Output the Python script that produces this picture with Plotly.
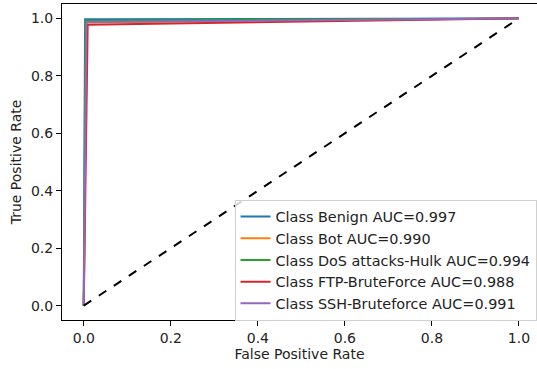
import plotly.graph_objects as go

class_names = ["Benign", "Bot", "DoS attacks-Hulk", "FTP-BruteForce", "SSH-Bruteforce"]
auc_values = [0.997, 0.990, 0.994, 0.988, 0.991]
fpr_points = [
    [0.0, 0.003, 1.0],
    [0.0, 0.006, 1.0],
    [0.0, 0.004, 1.0],
    [0.0, 0.009, 1.0],
    [0.0, 0.006, 1.0],
]
tpr_points = [
    [0.0, 0.997, 1.0],
    [0.0, 0.986, 1.0],
    [0.0, 0.992, 1.0],
    [0.0, 0.978, 1.0],
    [0.0, 0.987, 1.0],
]
colors = ["#1f77b4", "#ff7f0e", "#2ca02c", "#d62728", "#9467bd"]
tick_vals = [0.0, 0.2, 0.4, 0.6, 0.8, 1.0]
tick_text = ["0.0", "0.2", "0.4", "0.6", "0.8", "1.0"]

fig = go.Figure()
for name, auc, fx, ty, c in zip(class_names, auc_values, fpr_points, tpr_points, colors):
    fig.add_trace(go.Scatter(x=fx, y=ty, mode="lines", name=f"Class {name} AUC={auc:.3f}",
                             line=dict(color=c, width=2)))
fig.add_trace(go.Scatter(x=[0, 1], y=[0, 1], mode="lines", showlegend=False,
                         line=dict(color="black", width=2, dash="dash")))

font = "DejaVu Sans"
fig.update_layout(
    width=537, height=369,
    margin=dict(l=62, r=0, t=4, b=49),
    paper_bgcolor="white", plot_bgcolor="white",
    font=dict(family=font, size=14, color="#222"),
    legend=dict(x=0.999, y=-0.002, xanchor="right", yanchor="bottom",
                bordercolor="#d0d0d0", borderwidth=1, bgcolor="rgba(255,255,255,0.8)",
                font=dict(size=14.4), itemwidth=30),
    xaxis=dict(range=[-0.05, 1.0414], tickvals=tick_vals, ticktext=tick_text,
               showgrid=False, zeroline=False, showline=True, linecolor="black", linewidth=1,
               mirror=True, ticks="outside", ticklen=5, tickcolor="black", automargin=False,
               tickfont=dict(size=14),
               title=dict(text="False Positive Rate", standoff=4, font=dict(size=14))),
    yaxis=dict(range=[-0.05, 1.05], tickvals=tick_vals, ticktext=tick_text,
               showgrid=False, zeroline=False, showline=True, linecolor="black", linewidth=1,
               ticks="outside", ticklen=5, tickcolor="black", automargin=False,
               tickfont=dict(size=14),
               title=dict(text="True Positive Rate", standoff=6, font=dict(size=14))),
)
fig.write_html("out.html", config={"displayModeBar": False},
               post_script="document.body.style.margin='0';")
